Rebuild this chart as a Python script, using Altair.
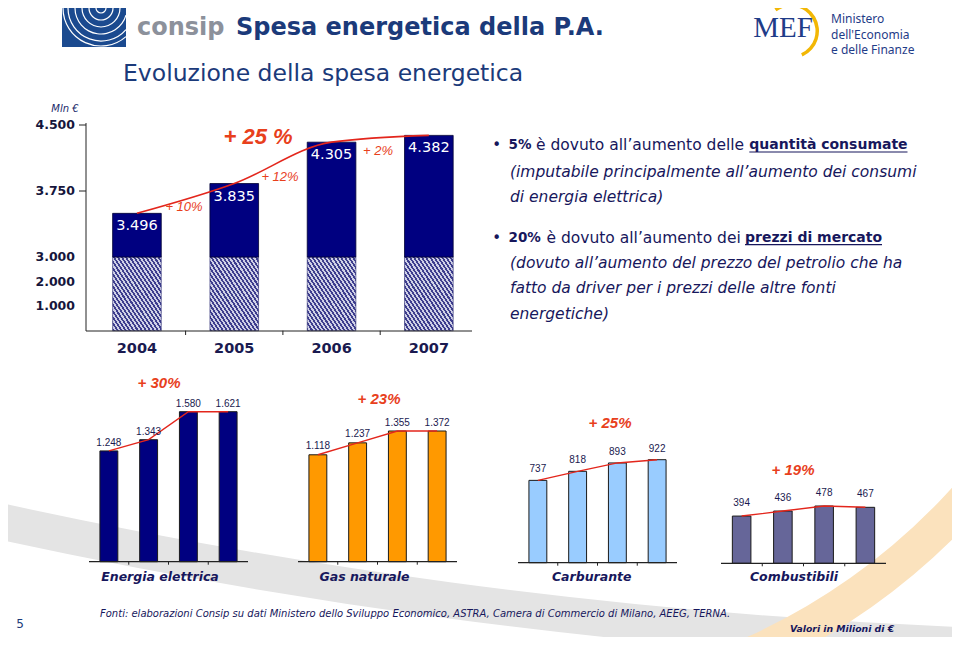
import math
import altair as alt
import pandas as pd

# ------------------------------------------------------------------ data
years = ["2004", "2005", "2006", "2007"]
total_spend = [3496, 3835, 4305, 4382]
total_growth = ["+ 10%", "+ 12%", "+ 2%"]
total_growth_all = "+ 25 %"
y_break = [0, 3000, 4500]           # broken axis: 0-3000 compressed
y_tick_values = [1000, 2000, 3000, 3750, 4500]

el_values = [1248, 1343, 1580, 1621]
gas_values = [1118, 1237, 1355, 1372]
carb_values = [737, 818, 893, 922]
comb_values = [394, 436, 478, 467]
panel_names = ["Energia elettrica", "Gas naturale", "Carburante", "Combustibili"]
panel_growth = ["+ 30%", "+ 23%", "+ 25%", "+ 19%"]

title_main = "Spesa energetica della P.A."
subtitle = "Evoluzione della spesa energetica"
bullet1 = ["5%", "è dovuto all’aumento delle", "quantità consumate"]
bullet1_more = ["(imputabile principalmente all’aumento dei consumi", "di energia elettrica)"]
bullet2 = ["20%", "è dovuto all’aumento dei", "prezzi di mercato"]
bullet2_more = ["(dovuto all’aumento del prezzo del petrolio che ha",
                "fatto da driver per i prezzi delle altre fonti", "energetiche)"]
footer = ("Fonti: elaborazioni Consip su dati Ministero dello Sviluppo Economico, "
          "ASTRA, Camera di Commercio di Milano, AEEG, TERNA.")
unit_note = "Valori in Milioni di €"
mef_lines = ["Ministero", "dell'Economia", "e delle Finanze"]

# ------------------------------------------------------------------ style
SANS = "DejaVu Sans"
ARIAL = "Liberation Sans"
NAVY_T = "#1b3a7a"
TXT = "#17175c"
RED = "#e3261c"
RED_T = "#e8401c"


def P(v):
    """page pixel -> plot pixel (8px page margin)"""
    return v - 8


def it(v):
    return f"{v:,}".replace(",", ".")


def txt(s, x, y, size, color, font=SANS, weight="normal", style="normal",
        align="left", baseline="middle"):
    return alt.Chart().mark_text(
        text=s, font=font, fontSize=size, fontWeight=weight, fontStyle=style,
        color=color, align=align, baseline=baseline
    ).encode(x=alt.value(P(x)), y=alt.value(P(y)))


def rule(x1, y1, x2, y2, color="#222222", w=1.0):
    return alt.Chart().mark_rule(color=color, strokeWidth=w).encode(
        x=alt.value(P(x1)), x2=alt.value(P(x2)),
        y=alt.value(P(y1)), y2=alt.value(P(y2)))


def ring(cx, cy, r_out, r_in, t1, t2, color, opacity=1.0):
    return alt.Chart().mark_arc(
        radius=r_out, radius2=r_in, theta=t1, theta2=t2, color=color, opacity=opacity
    ).encode(x=alt.value(P(cx)), y=alt.value(P(cy)))


layers = []

# ------------------------------------------------------------------ background swooshes
layers.append(ring(1192.6, -4938, 5606, 5570, 3.13, 3.42, "#e4e4e4"))
layers.append(ring(492, 72, 656, 620, 2.15, 2.9, "#fbe2bd"))

# ------------------------------------------------------------------ header
layers.append(alt.Chart().mark_rect(color="#1b4a8f").encode(
    x=alt.value(P(62)), x2=alt.value(P(126)), y=alt.value(P(8)), y2=alt.value(P(47))))
cx, cy = 101, 8
for r in [5, 12, 19, 26, 33, 38]:
    t1 = math.pi / 2 if r <= 25 else math.pi - math.asin(25 / r)
    t2 = 3 * math.pi / 2 if r <= 39 else math.pi + math.asin(39 / r)
    layers.append(ring(cx, cy, r + 0.6, r - 0.6, t1, t2, "white"))
layers.append(txt("consip", 137, 35, 24, "#8c919b", weight="bold", baseline="alphabetic"))
layers.append(txt(title_main, 236, 35, 24, NAVY_T, weight="bold", baseline="alphabetic"))
layers.append(txt(subtitle, 123, 81, 23.5, NAVY_T, baseline="alphabetic"))

# MEF logo
layers.append(ring(791, 31, 28, 24.5, 5.65, 9.0, "#f2b705"))
layers.append(txt("MEF", 783, 37, 29, "#1f3c88", font="Liberation Serif",
                  align="center", baseline="alphabetic"))
for i, s in enumerate(mef_lines):
    layers.append(txt(s, 831, 19 + 15.5 * i, 12, "#1f3c88", font="Noto Sans"))

# ------------------------------------------------------------------ top chart
top_df = pd.DataFrame({
    "year": years, "value": total_spend,
    "label": [it(v) for v in total_spend],
    "split": [y_break[1]] * 4, "base": [y_break[0]] * 4,
})
TOP_X = (88.3, 477.5)
xs_top = alt.Scale(type="band", domain=years, range=[P(TOP_X[0]), P(TOP_X[1])],
                   paddingInner=0.5, paddingOuter=0.25)
ys_top = alt.Scale(type="linear", domain=y_break, range=[P(330.7), P(257), P(125)],
                   zero=False, nice=False)
XT = alt.X("year:N", scale=xs_top, axis=None)


def YT(f):
    return alt.Y(f, scale=ys_top, axis=None)


dark, light = "#3e3e8e", "#cfd0e6"
stops = []
N = 24
for i in range(N):
    a, b, c = i / N, (i + 0.5) / N, (i + 1) / N
    stops += [alt.GradientStop(color=dark, offset=a), alt.GradientStop(color=dark, offset=b),
              alt.GradientStop(color=light, offset=b), alt.GradientStop(color=light, offset=c)]
hatch_fill = alt.LinearGradient(gradient="linear", stops=stops, x1=0, y1=1, x2=1, y2=0)

tb = alt.Chart(top_df)
hatch = tb.mark_bar(color=hatch_fill, stroke="#2a2a70", strokeWidth=0.6).encode(
    x=XT, y=YT("split:Q"), y2="base:Q")
navy = tb.mark_bar(color="#000080", stroke="#000033", strokeWidth=0.8).encode(
    x=XT, y=YT("value:Q"), y2="split:Q")
tline = tb.mark_line(color=RED, strokeWidth=1.6, interpolate="monotone").encode(
    x=XT, y=YT("value:Q"))
tvals = tb.mark_text(color="white", font=SANS, fontSize=14.5, dy=13, baseline="middle").encode(
    x=XT, y=YT("value:Q"), text="label:N")
tyears = tb.mark_text(color="#1a1a50", font=SANS, fontSize=14.5, fontWeight="bold",
                      baseline="middle").encode(x=XT, y=alt.value(P(349)), text="year:N")
top_step = (TOP_X[1] - TOP_X[0]) / 4.0
txticks = alt.Chart(top_df.iloc[1:]).mark_rule(
    color="#222222", xOffset=-top_step * 0.25).encode(
    x=alt.X("year:N", scale=xs_top, axis=None, bandPosition=0),
    y=alt.value(P(330.7)), y2=alt.value(P(335)))
tick_df = pd.DataFrame({"v": y_tick_values, "lab": [it(v) for v in y_tick_values]})
tylabels = alt.Chart(tick_df).mark_text(
    align="right", baseline="middle", font=SANS, fontSize=12.5, fontWeight="bold",
    color="#16163c").encode(y=YT("v:Q"), x=alt.value(P(75)), text="lab:N")
tyticks = alt.Chart(tick_df[tick_df.v > y_break[1]]).mark_rule(color="#222222").encode(
    y=YT("v:Q"), x=alt.value(P(79)), x2=alt.value(P(86)))
layers.append(alt.layer(hatch, navy, tline, tvals, tyears, txticks, tylabels, tyticks))
layers.append(rule(86, 123, 86, 331))
layers.append(rule(86, 331, 472, 331))
layers.append(txt("Mln €", 65, 109, 10, "#1b2a6a", style="italic", align="center"))

layers.append(txt(total_growth_all, 258, 137, 22, RED_T, font=ARIAL, weight="bold",
                  style="italic", align="center"))
for s, (gx, gy) in zip(total_growth, [(184, 207), (280, 177), (378, 151)]):
    layers.append(txt(s, gx, gy, 13, RED_T, font=ARIAL, style="italic", align="center"))


# ------------------------------------------------------------------ bottom panels
PI, PO = 0.55, 0.275


def panel(values, x_rng, y_dom, y_rng, fill, dy):
    df = pd.DataFrame({"year": years, "value": values,
                       "label": [it(v) for v in values], "base": [0] * 4})
    xs = alt.Scale(type="band", domain=years, range=[P(x_rng[0]), P(x_rng[1])],
                   paddingInner=PI, paddingOuter=PO)
    ys = alt.Scale(type="linear", domain=list(y_dom), range=[P(y_rng[0]), P(y_rng[1])],
                   zero=False, nice=False, clamp=True)
    X = alt.X("year:N", scale=xs, axis=None)
    Y = alt.Y("value:Q", scale=ys, axis=None)
    step = (x_rng[1] - x_rng[0]) / (4 - PI + 2 * PO)
    c = alt.Chart(df)
    bars = c.mark_bar(color=fill, stroke="#1a1a1a", strokeWidth=1).encode(x=X, y=Y, y2="base:Q")
    ln = c.mark_line(color=RED, strokeWidth=1.4).encode(x=X, y=Y)
    lab = c.mark_text(dy=dy, font=ARIAL, fontSize=10, color="#1a1a50", baseline="middle").encode(
        x=X, y=Y, text="label:N")
    ticks = alt.Chart(df.iloc[1:]).mark_rule(color="#222222", xOffset=-step * PI / 2).encode(
        x=alt.X("year:N", scale=xs, axis=None, bandPosition=0),
        y=alt.value(P(y_rng[0])), y2=alt.value(P(y_rng[0] + 3)))
    return [alt.layer(bars, ln, lab, ticks),
            rule(x_rng[0], y_rng[0], x_rng[1], y_rng[0], "#222222", 1.3)]


layers += panel(el_values, (89, 248), (310, 1580), (561.7, 411.7), "#000080", -8)
layers += panel(gas_values, (298, 457), (53, 1355), (561.7, 431), "#ff9900", -8.5)
layers += panel(carb_values, (518, 677), (0, 922), (562.7, 459.7), "#99ccff", -11)
layers += panel(comb_values, (721, 886), (0, 478), (563.3, 506), "#666699", -13)

for s, x in zip(panel_names, [160, 364.5, 591.7, 794]):
    layers.append(txt(s, x, 577, 12.5, TXT, weight="bold", style="italic", align="center"))
for s, (gx, gy) in zip(panel_growth, [(159, 383), (379, 399), (610, 423), (793, 470)]):
    layers.append(txt(s, gx, gy, 15, RED_T, font=ARIAL, weight="bold", style="italic",
                      align="center"))

# ------------------------------------------------------------------ bullet text
rows1 = [145, 171.7, 196.7]
rows2 = [237.7, 263.3, 288.3, 314]
for bl, more, rows, starts, ul in [
    (bullet1, bullet1_more, rows1, (508.5, 536, 749.3), (749.3, 907.5)),
    (bullet2, bullet2_more, rows2, (508.5, 546.5, 745), (745, 882)),
]:
    y0 = rows[0]
    layers.append(txt("•", 496.7, y0, 15, TXT, align="center"))
    layers.append(txt(bl[0], starts[0], y0, 13.5, TXT, weight="bold"))
    layers.append(txt(bl[1], starts[1], y0, 15.5, TXT))
    layers.append(txt(bl[2], starts[2], y0, 14, TXT, weight="bold"))
    layers.append(rule(ul[0], y0 + 7, ul[1], y0 + 7, TXT, 1.2))
    for s, y in zip(more, rows[1:]):
        layers.append(txt(s, 510, y, 15.5, TXT, style="italic"))

# ------------------------------------------------------------------ footer
layers.append(txt("5", 20, 624, 12, NAVY_T, align="center"))
layers.append(txt(footer, 100, 614, 10, TXT, style="italic"))
layers.append(txt(unit_note, 790, 629, 9.3, TXT, weight="bold", style="italic"))

chart = alt.layer(*layers).resolve_scale(x="independent", y="independent").properties(
    width=944, height=629, padding=0, autosize="none", background="white"
).configure_view(stroke=None)

chart.save("out.html", embed_options={"renderer": "svg", "actions": False})
